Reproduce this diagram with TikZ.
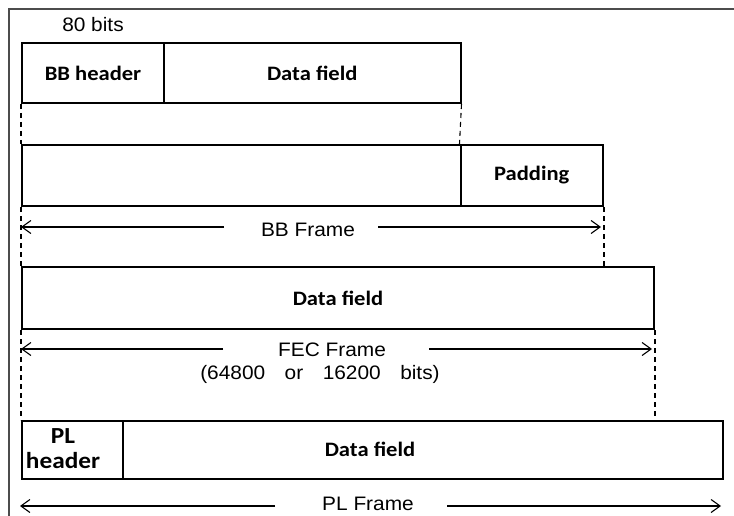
\documentclass[tikz,border=0pt]{standalone}
\usepackage{fontspec}
\usetikzlibrary{arrows.meta}
\newfontfamily\boxfont[FakeStretch=1.1]{Carlito}
\newfontfamily\labfont[FakeStretch=1.07]{Liberation Sans}
\tikzset{
  cell/.style={draw=black, line width=2pt, inner sep=0pt, anchor=north west,
    font=\boxfont\bfseries\fontsize{20.5}{24}\selectfont},
  boxtext/.style={inner sep=0pt, font=\boxfont\bfseries\fontsize{20.5}{24}\selectfont},
  labtext/.style={inner sep=0pt, font=\labfont\fontsize{19.5}{24}\selectfont},
  guide/.style={draw=black, line width=1.1pt, dash pattern=on 5pt off 4pt},
  dimarrow/.style={draw=black, line width=1.1pt, -{Straight Barb[length=9pt,width=13pt,line width=1.1pt]}},
  frameline/.style={draw=black!70, line width=1.2pt}
}
\begin{document}
\begin{tikzpicture}[x=1pt,y=-1pt]
\useasboundingbox (0,0) rectangle (734,516);
% outer frame (top and left edges)
\draw[frameline] (734,9) -- (9,9) -- (9,516);

% row 1
\node[labtext] (bits) at (93,25) {80 bits};
\node[cell, minimum width=142pt, minimum height=60pt] (bbh) at (21,42) {BB header};
\node[cell, minimum width=296.5pt, minimum height=60pt] (df1) at (163,42) {Data field};

% row 2
\node[cell, minimum width=438.5pt, minimum height=61pt] (blank) at (21,144) {};
\node[cell, minimum width=142.5pt, minimum height=61pt] (pad) at (459.5,144) {Padding};

% BB frame arrow
\node[labtext] (bbt) at (308,230) {BB Frame};
\coordinate (bbL) at (21,227);
\coordinate (bbLg) at (224,227);
\coordinate (bbR) at (601,227);
\coordinate (bbRg) at (378,227);
\draw[dimarrow] (bbLg) -- (bbL);
\draw[dimarrow] (bbRg) -- (bbR);

% row 3
\node[cell, minimum width=632pt, minimum height=62pt] (df3) at (21,266) {Data field};

% FEC frame arrow
\node[labtext] (fect) at (332,350) {FEC Frame};
\node[labtext] (fecb) at (320,374) {(64800\hspace{1em}or\hspace{1em}16200\hspace{1em}bits)};
\coordinate (fecL) at (21,349);
\coordinate (fecLg) at (223,349);
\coordinate (fecR) at (652,349);
\coordinate (fecRg) at (429,349);
\draw[dimarrow] (fecLg) -- (fecL);
\draw[dimarrow] (fecRg) -- (fecR);

% row 4
\node[cell, minimum width=101pt, minimum height=58pt] (plh) at (21,420) {};
\node[cell, minimum width=600pt, minimum height=58pt] (df4) at (122,420) {};
\node[boxtext, align=center, font=\boxfont\bfseries\fontsize{23}{25}\selectfont] (plht) at (63,449) {PL\\header};
\node[boxtext] (df4t) at (370,449) {Data field};

% PL frame arrow
\node[labtext] (plt) at (368,504) {PL Frame};
\coordinate (plL) at (20,506);
\coordinate (plLg) at (275,506);
\coordinate (plR) at (721,506);
\coordinate (plRg) at (447,506);
\draw[dimarrow] (plLg) -- (plL);
\draw[dimarrow] (plRg) -- (plR);

% dashed guides
\draw[guide] (bbh.south west) -- (blank.north west);
\draw[guide] (blank.south west) -- (df3.north west);
\draw[guide] (df3.south west) -- (plh.north west);
\draw[guide] (df1.south east) -- (pad.north west);
\draw[guide] (pad.south east) -- (pad.south east |- df3.north);
\draw[guide] (df3.south east) -- (df3.south east |- df4.north);
\end{tikzpicture}
\end{document}
